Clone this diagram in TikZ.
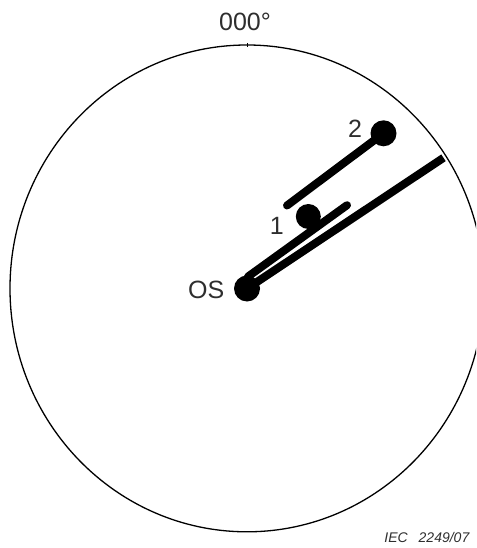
\documentclass[tikz,border=0pt]{standalone}
\usepackage{fontspec}
\setmainfont{Liberation Sans}
\usepackage{xcolor}
\usetikzlibrary{positioning}
\definecolor{ink}{HTML}{000000}
\definecolor{labelgray}{HTML}{2E2E2E}
\tikzset{
  rangering/.style={draw=ink,line width=1.3pt},
  northtick/.style={draw=ink,line width=0.5pt},
  trackdot/.style={circle,fill=ink,inner sep=0pt,minimum size=26pt},
  trackline/.style={draw=ink,line width=8pt,line cap=round},
  plotlabel/.style={font=\fontsize{25}{28}\selectfont,text=labelgray,
                    inner sep=0pt},
  sourcenote/.style={font=\itshape\fontsize{14}{16}\selectfont,
                     text=labelgray,inner sep=0pt}
}

\begin{document}
\begin{tikzpicture}[x=1pt,y=-1pt]
  \path[use as bounding box] (0,0) rectangle (476,548);
  % range ring, cut by the right edge
  \begin{scope}
    \clip (0,0) rectangle (476,548);
    \draw[rangering] (247,288.4) ellipse [x radius=237,y radius=243.4];
  \end{scope}
  \draw[northtick] (247.7,43.5) -- (247.7,47.5);

  % plots
  \node[trackdot] (os) at (247,288.5) {};
  \node[trackdot,minimum size=25pt] (dot1) at (308.3,216.5) {};
  \node[trackdot] (dot2) at (383.5,133.3) {};

  \coordinate (tail2) at (287,205.5);
  \coordinate (tailA) at (248,276.6);
  \coordinate (headA) at (347,205.2);
  \coordinate (tailB) at (251.5,285.6);
  \coordinate (edgeB) at (443.5,157.8);

  \draw[trackline] (dot2.center) -- (tail2);
  \draw[trackline] (tailA) -- (headA);
  \draw[trackline,line cap=butt] (tailB) -- (edgeB);

  % labels
  \node[plotlabel] (lbl2) at (355,128.3) {2};
  \node[plotlabel] (lbl1) at (276.7,225.5) {1};
  \node[plotlabel] (lblos) at (206.3,289.5) {OS};
  \node[plotlabel] (north) at (245,21.7) {000°};
  \node[sourcenote,anchor=east] (iec) at (469.5,537.7)
    {IEC\hspace{11pt}2249/07};
\end{tikzpicture}
\end{document}
